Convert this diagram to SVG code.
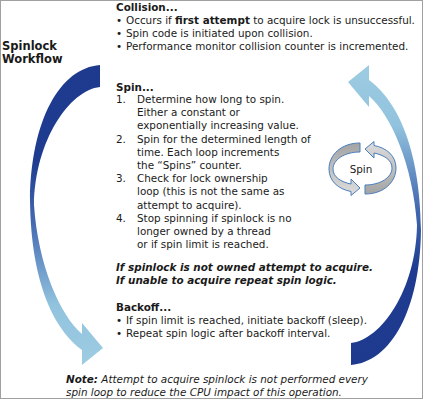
<svg xmlns="http://www.w3.org/2000/svg" width="424" height="400" viewBox="0 0 424 400">
<style>
text{font-family:"DejaVu Sans","Liberation Sans",sans-serif;font-size:10.4px;fill:#1a1a1a}
.h{font-weight:bold}
.t{font-weight:bold;font-size:11.5px}
.bi{font-weight:bold;font-style:italic}
.i{font-style:italic}
.spinband{stroke:#4a7ebb;stroke-width:1;fill:url(#gGray)}
</style>
<defs>
<linearGradient id="gBlue" x1="0" y1="0" x2="0" y2="1">
<stop offset="0" stop-color="#1e3a8e"/>
<stop offset="0.32" stop-color="#1f3c90"/>
<stop offset="0.52" stop-color="#4368b0"/>
<stop offset="0.8" stop-color="#92c3de"/>
<stop offset="1" stop-color="#9dcce2"/>
</linearGradient>
<linearGradient id="gGray" x1="0" y1="0" x2="0" y2="1">
<stop offset="0" stop-color="#a3a3a3"/>
<stop offset="1" stop-color="#dedede"/>
</linearGradient>
<path id="bigArrow" d="M100,65 C60,68 31,120 30,200 C31,285 55,330 82,350 L82,365 L103,348 L82,323 L82,334 C60,315 38,265 34,205 C35,140 70,90 100,87 Z"/>
<path id="spinArrow" d="M360,143 C341,143 329,155 329,169 C329,181 338,189 351,191.5 L351,195.5 L360,188 L351,179 L351,184 C341,182 333,177 333,169 C333,160 344,152 360,152 Z"/>
</defs>
<rect x="0.5" y="0.5" width="422" height="398" fill="#fff" stroke="#a0a0a0" stroke-width="1"/>

<g id="connectors">
<use href="#bigArrow" fill="url(#gBlue)"/>
<use href="#bigArrow" fill="url(#gBlue)" transform="translate(451,430) rotate(180)"/>
</g>

<g id="title">
<text class="t" x="2" y="49.5">Spinlock</text>
<text class="t" x="2" y="63">Workflow</text>
</g>

<g id="collision">
<text class="h" x="116" y="11">Collision...</text>
<text y="24"><tspan x="116">•</tspan><tspan x="126">Occurs if <tspan class="h">first attempt</tspan> to acquire lock is unsuccessful.</tspan></text>
<text y="37"><tspan x="116">•</tspan><tspan x="126">Spin code is initiated upon collision.</tspan></text>
<text y="50"><tspan x="116">•</tspan><tspan x="126">Performance monitor collision counter is incremented.</tspan></text>
</g>

<g id="spin">
<text class="h" x="116" y="91">Spin...</text>
<text x="116" y="103">1.</text>
<text x="137" y="103">Determine how long to spin.</text>
<text x="137" y="116.2">Either a constant or</text>
<text x="137" y="129.4">exponentially increasing value.</text>
<text x="116" y="142.6">2.</text>
<text x="137" y="142.6">Spin for the determined length of</text>
<text x="137" y="155.8">time. Each loop increments</text>
<text x="137" y="169">the “Spins” counter.</text>
<text x="116" y="182.2">3.</text>
<text x="137" y="182.2">Check for lock ownership</text>
<text x="137" y="195.4">loop (this is not the same as</text>
<text x="137" y="208.6">attempt to acquire).</text>
<text x="116" y="221.8">4.</text>
<text x="137" y="221.8">Stop spinning if spinlock is no</text>
<text x="137" y="235">longer owned by a thread</text>
<text x="137" y="248.2">or if spin limit is reached.</text>
</g>

<g id="acquire">
<text class="bi" x="116" y="270.5">If spinlock is not owned attempt to acquire.</text>
<text class="bi" x="116" y="283.7">If unable to acquire repeat spin logic.</text>
</g>

<g id="backoff">
<text class="h" x="116" y="310.7">Backoff...</text>
<text y="324"><tspan x="116">•</tspan><tspan x="126">If spin limit is reached, initiate backoff (sleep).</tspan></text>
<text y="337.2"><tspan x="116">•</tspan><tspan x="126">Repeat spin logic after backoff interval.</tspan></text>
</g>

<g id="spinIcon">
<use href="#spinArrow" class="spinband"/>
<use href="#spinArrow" class="spinband" transform="rotate(180,362.5,168.5)"/>
<text x="361" y="173.3" text-anchor="middle">Spin</text>
</g>

<g id="note">
<text class="i" x="66" y="382.5"><tspan class="bi">Note:</tspan> Attempt to acquire spinlock is not performed every</text>
<text class="i" x="66" y="395.7">spin loop to reduce the CPU impact of this operation.</text>
</g>
</svg>
